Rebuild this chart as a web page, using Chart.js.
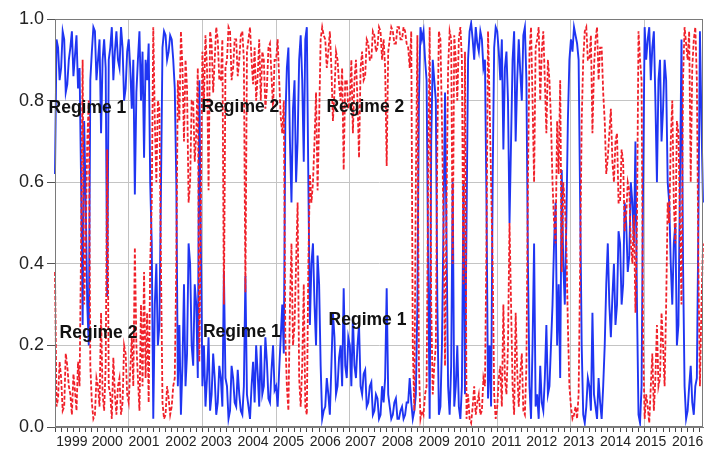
<!DOCTYPE html>
<html>
<head>
<meta charset="utf-8">
<script src="https://cdn.jsdelivr.net/npm/chart.js@4.4.1/dist/chart.umd.min.js"></script>
<style>
  html, body { margin: 0; padding: 0; background: #fff; }
  #wrap { width: 705px; height: 457px; }
</style>
</head>
<body>
<div id="wrap"><canvas id="chart" width="705" height="457"></canvas></div>
<script>
// ------------------------------------------------------------
// Data: half-monthly smoothed regime probabilities, Jan 1999 - Aug 2016
// ------------------------------------------------------------
const START_YEAR = 1999;
const N_POINTS = 423;          // two readings per month

const dates = Array.from({ length: N_POINTS }, (_, i) => {
  const m = Math.floor(i / 2);
  const yr = START_YEAR + Math.floor(m / 12);
  return `${yr}-${String(m % 12 + 1).padStart(2, '0')}-${i % 2 ? '16' : '01'}`;
});

// Regime 1 (blue, solid) - one row per year
const regime1 = [
  0.62, 0.95, 0.93, 0.85, 0.88, 0.97, 0.95, 0.82, 0.84, 0.9, 0.93, 0.97, 0.86, 0.91, 0.96, 0.83, 0.88, 0.6, 0.25, 0.75, 0.55, 0.3, 0.2, 0.85,
  0.92, 0.98, 0.97, 0.85, 0.9, 0.95, 0.72, 0.9, 0.95, 0.88, 0.32, 0.9, 0.93, 0.98, 0.85, 0.92, 0.97, 0.9, 0.88, 0.98, 0.93, 0.8, 0.83, 0.92,
  0.95, 0.88, 0.78, 0.9, 0.57, 0.82, 0.9, 0.97, 0.8, 0.92, 0.66, 0.9, 0.85, 0.94, 0.6, 0.45, 0.02, 0.3, 0.4, 0.2, 0.25, 0.58, 0.93, 0.97,
  0.96, 0.9, 0.92, 0.96, 0.95, 0.9, 0.83, 0.6, 0.1, 0.25, 0.03, 0.15, 0.35, 0.1, 0.18, 0.45, 0.4, 0.2, 0.15, 0.35, 0.3, 0.12, 0.85, 0.45,
  0.1, 0.2, 0.05, 0.12, 0.22, 0.04, 0.08, 0.18, 0.12, 0.03, 0.06, 0.15, 0.12, 0.05, 0.38, 0.12, 0.1, 0.02, 0.04, 0.15, 0.12, 0.06, 0.05, 0.14,
  0.08, 0.04, 0.03, 0.1, 0.37, 0.08, 0.05, 0.02, 0.1, 0.16, 0.06, 0.2, 0.13, 0.05, 0.2, 0.08, 0.1, 0.22, 0.16, 0.07, 0.06, 0.14, 0.2, 0.09,
  0.1, 0.05, 0.14, 0.22, 0.3, 0.18, 0.75, 0.88, 0.93, 0.7, 0.55, 0.78, 0.85, 0.6, 0.7, 0.9, 0.96, 0.85, 0.65, 0.95, 0.98, 0.6, 0.25, 0.4,
  0.45, 0.3, 0.2, 0.42, 0.35, 0.15, 0.02, 0.04, 0.05, 0.12, 0.08, 0.03, 0.15, 0.28, 0.22, 0.08, 0.1, 0.17, 0.2, 0.1, 0.34, 0.15, 0.12, 0.22,
  0.2, 0.1, 0.27, 0.15, 0.12, 0.2, 0.25, 0.1, 0.08, 0.13, 0.14, 0.05, 0.06, 0.1, 0.11, 0.03, 0.04, 0.08, 0.07, 0.02, 0.03, 0.1, 0.06, 0.12,
  0.34, 0.08, 0.05, 0.02, 0.03, 0.06, 0.07, 0.02, 0.02, 0.04, 0.05, 0.02, 0.03, 0.06, 0.06, 0.12, 0.06, 0.02, 0.04, 0.08, 0.3, 0.8, 0.98, 0.95,
  0.97, 0.9, 0.85, 0.4, 0.02, 0.7, 0.9, 0.85, 0.8, 0.3, 0.03, 0.05, 0.2, 0.5, 0.82, 0.45, 0.1, 0.03, 0.15, 0.6, 0.05, 0.1, 0.2, 0.05,
  0.02, 0.1, 0.6, 0.08, 0.5, 0.9, 0.97, 0.99, 0.95, 0.9, 0.98, 0.94, 0.92, 0.97, 0.95, 0.88, 0.9, 0.55, 0.07, 0.2, 0.05, 0.6, 0.93, 0.98,
  0.97, 0.92, 0.85, 0.95, 0.68, 0.88, 0.92, 0.8, 0.5, 0.7, 0.9, 0.97, 0.7, 0.85, 0.95, 0.87, 0.8, 0.96, 0.98, 0.85, 0.4, 0.1, 0.02, 0.2,
  0.45, 0.05, 0.08, 0.02, 0.15, 0.06, 0.04, 0.12, 0.25, 0.08, 0.1, 0.2, 0.3, 0.45, 0.55, 0.2, 0.35, 0.12, 0.63, 0.4, 0.3, 0.5, 0.75, 0.9,
  0.95, 0.92, 0.98, 0.96, 0.94, 0.9, 0.55, 0.2, 0.03, 0.01, 0.05, 0.12, 0.1, 0.04, 0.28, 0.08, 0.05, 0.02, 0.12, 0.06, 0.02, 0.1, 0.2, 0.35,
  0.45, 0.3, 0.22, 0.32, 0.4, 0.25, 0.3, 0.48, 0.45, 0.3, 0.35, 0.55, 0.5, 0.38, 0.42, 0.6, 0.55, 0.45, 0.7, 0.3, 0.03, 0.01, 0.1, 0.6,
  0.98, 0.9, 0.95, 0.98, 0.85, 0.93, 0.97, 0.8, 0.6, 0.85, 0.9, 0.7, 0.78, 0.9, 0.85, 0.6, 0.55, 0.4, 0.3, 0.45, 0.5, 0.2, 0.25, 0.6,
  0.95, 0.4, 0.1, 0.02, 0.04, 0.1, 0.15, 0.06, 0.03, 0.1, 0.12, 0.5, 0.97, 0.75, 0.55
];

// Regime 2 (red, dashed)
const regime2 = [
  0.38, 0.05, 0.07, 0.16, 0.12, 0.04, 0.05, 0.18, 0.15, 0.1, 0.08, 0.03, 0.13, 0.09, 0.04, 0.16, 0.1, 0.45, 0.9, 0.3, 0.45, 0.7, 0.8, 0.15,
  0.06, 0.02, 0.03, 0.12, 0.1, 0.05, 0.28, 0.08, 0.04, 0.15, 0.68, 0.1, 0.08, 0.02, 0.17, 0.08, 0.03, 0.1, 0.12, 0.03, 0.06, 0.2, 0.18, 0.08,
  0.06, 0.14, 0.22, 0.1, 0.44, 0.2, 0.12, 0.04, 0.3, 0.1, 0.38, 0.12, 0.28, 0.06, 0.4, 0.55, 0.98, 0.75, 0.6, 0.8, 0.78, 0.4, 0.06, 0.02,
  0.03, 0.1, 0.07, 0.03, 0.05, 0.1, 0.12, 0.4, 0.85, 0.75, 0.97, 0.88, 0.7, 0.9, 0.83, 0.55, 0.6, 0.8, 0.8, 0.65, 0.72, 0.88, 0.16, 0.55,
  0.92, 0.8, 0.96, 0.88, 0.58, 0.97, 0.94, 0.82, 0.9, 0.98, 0.95, 0.85, 0.85, 0.95, 0.3, 0.88, 0.9, 0.98, 0.97, 0.85, 0.88, 0.95, 0.95, 0.86,
  0.9, 0.96, 0.97, 0.9, 0.33, 0.92, 0.95, 0.98, 0.9, 0.84, 0.93, 0.8, 0.86, 0.95, 0.8, 0.92, 0.9, 0.78, 0.83, 0.93, 0.94, 0.86, 0.78, 0.9,
  0.9, 0.95, 0.85, 0.76, 0.72, 0.8, 0.22, 0.1, 0.04, 0.3, 0.45, 0.2, 0.25, 0.4, 0.55, 0.12, 0.05, 0.15, 0.35, 0.05, 0.03, 0.4, 0.62, 0.55,
  0.6, 0.7, 0.82, 0.58, 0.75, 0.95, 0.98, 0.96, 0.95, 0.88, 0.92, 0.97, 0.88, 0.75, 0.82, 0.92, 0.9, 0.84, 0.8, 0.88, 0.63, 0.85, 0.85, 0.78,
  0.8, 0.9, 0.72, 0.85, 0.9, 0.8, 0.66, 0.88, 0.92, 0.85, 0.86, 0.95, 0.94, 0.9, 0.9, 0.97, 0.96, 0.92, 0.93, 0.98, 0.97, 0.9, 0.95, 0.88,
  0.64, 0.92, 0.95, 0.98, 0.97, 0.94, 0.94, 0.98, 0.98, 0.95, 0.95, 0.98, 0.97, 0.94, 0.93, 0.88, 0.97, 0.2, 0.04, 0.6, 0.96, 0.15, 0.02, 0.04,
  0.03, 0.08, 0.1, 0.6, 0.98, 0.3, 0.08, 0.15, 0.2, 0.7, 0.97, 0.95, 0.75, 0.5, 0.15, 0.55, 0.88, 0.97, 0.95, 0.4, 0.96, 0.9, 0.8, 0.95,
  0.98, 0.9, 0.35, 0.92, 0.02, 0.08, 0.02, 0.01, 0.05, 0.1, 0.03, 0.06, 0.08, 0.03, 0.04, 0.12, 0.1, 0.45, 0.97, 0.8, 0.6, 0.4, 0.08, 0.02,
  0.05, 0.12, 0.15, 0.05, 0.3, 0.12, 0.08, 0.2, 0.5, 0.3, 0.1, 0.03, 0.28, 0.14, 0.05, 0.13, 0.18, 0.04, 0.03, 0.15, 0.6, 0.92, 0.98, 0.8,
  0.6, 0.93, 0.95, 0.98, 0.8, 0.92, 0.97, 0.85, 0.72, 0.9, 0.85, 0.75, 0.6, 0.5, 0.45, 0.75, 0.62, 0.85, 0.38, 0.6, 0.55, 0.45, 0.25, 0.1,
  0.05, 0.02, 0.03, 0.05, 0.02, 0.08, 0.4, 0.75, 0.9, 0.97, 0.98, 0.9, 0.9, 0.96, 0.72, 0.88, 0.95, 0.98, 0.85, 0.93, 0.93, 0.82, 0.75, 0.62,
  0.66, 0.72, 0.78, 0.65, 0.6, 0.7, 0.72, 0.55, 0.55, 0.68, 0.65, 0.48, 0.52, 0.6, 0.58, 0.45, 0.4, 0.52, 0.28, 0.5, 0.97, 0.9, 0.85, 0.2,
  0.02, 0.08, 0.05, 0.01, 0.1, 0.18, 0.04, 0.12, 0.25, 0.1, 0.12, 0.28, 0.2, 0.1, 0.3, 0.55, 0.5, 0.7, 0.8, 0.55, 0.45, 0.75, 0.72, 0.5,
  0.3, 0.85, 0.98, 0.94, 0.9, 0.97, 0.6, 0.88, 0.95, 0.98, 0.85, 0.4, 0.1, 0.3, 0.45
];

// Year labels are spread evenly under the axis, slightly tighter than the years
const yearLabels = ['1999', '2000', '2001', '2002', '2003', '2004', '2005', '2006', '2007',
                    '2008', '2009', '2010', '2011', '2012', '2013', '2014', '2015', '2016'];
const LABEL_FIRST = 10.8;      // in half-month steps
const LABEL_STEP = 23.58;

const yTicks = [0, 0.2, 0.4, 0.6, 0.8, 1.0];

// Text labels inside the plot (decimal year, probability)
const notes = [
  { text: 'Regime 1', year: 1999.88, y: 0.782 },
  { text: 'Regime 2', year: 2000.18, y: 0.230 },
  { text: 'Regime 2', year: 2004.03, y: 0.784 },
  { text: 'Regime 1', year: 2004.07, y: 0.233 },
  { text: 'Regime 2', year: 2007.42, y: 0.784 },
  { text: 'Regime 1', year: 2007.48, y: 0.262 },
];

const FONT = '"Liberation Sans", Arial, Helvetica, sans-serif';

const labelAt = new Map(yearLabels.map((y, k) => [Math.round(LABEL_FIRST + k * LABEL_STEP), y]));

// ------------------------------------------------------------
// Plugins: frame around the plot, regime labels
// ------------------------------------------------------------
const framePlugin = {
  id: 'frame',
  afterDatasetsDraw(chart) {
    const { ctx, chartArea: a } = chart;
    ctx.save();
    ctx.strokeStyle = '#7a7a7a';
    ctx.lineWidth = 1;
    ctx.strokeRect(a.left + 0.5, a.top + 0.5, a.right - a.left - 1, a.bottom - a.top - 1);
    ctx.restore();
  }
};

const notesPlugin = {
  id: 'notes',
  afterDatasetsDraw(chart) {
    const { ctx, scales } = chart;
    ctx.save();
    ctx.font = `bold 17.5px ${FONT}`;
    ctx.fillStyle = '#111';
    ctx.textAlign = 'center';
    ctx.textBaseline = 'middle';
    notes.forEach(n => {
      const px = scales.x.getPixelForValue((n.year - START_YEAR) * 24);
      const py = scales.y.getPixelForValue(n.y);
      ctx.fillText(n.text, px, py);
    });
    ctx.restore();
  }
};

// ------------------------------------------------------------
// Chart
// ------------------------------------------------------------
new Chart(document.getElementById('chart'), {
  type: 'line',
  data: {
    labels: dates,
    datasets: [
      {
        label: 'Regime 1',
        data: regime1,
        borderColor: '#1f35f2',
        borderWidth: 1.9,
        pointRadius: 0,
        tension: 0,
        order: 2,
      },
      {
        label: 'Regime 2',
        data: regime2,
        borderColor: '#f0212a',
        borderWidth: 1.8,
        borderDash: [4, 2],
        pointRadius: 0,
        tension: 0,
        order: 1,
      },
    ],
  },
  options: {
    responsive: false,
    animation: false,
    layout: { padding: { top: 19, right: 2, left: 0, bottom: 0 } },
    plugins: {
      legend: { display: false },
      tooltip: { enabled: false },
    },
    scales: {
      x: {
        offset: false,
        border: { display: true, color: '#7a7a7a' },
        grid: {
          drawTicks: true,
          tickLength: 5,
          color: c => (c.index % 48 === 0 ? '#c4c4c4' : 'rgba(0,0,0,0)'),
          tickColor: c => (c.index % 4 === 0 ? '#444' : 'rgba(0,0,0,0)'),
        },
        ticks: {
          autoSkip: false,
          maxRotation: 0,
          minRotation: 0,
          padding: 2,
          color: '#222',
          font: { family: FONT, size: 14 },
          callback: (v, i) => labelAt.get(i) || '',
        },
        afterFit: s => { s.height = 30; },
      },
      y: {
        min: 0,
        max: 1,
        border: { display: true, color: '#7a7a7a' },
        afterBuildTicks: s => { s.ticks = yTicks.map(v => ({ value: v })); },
        grid: {
          tickLength: 8,
          color: '#c4c4c4',
          tickColor: '#555',
        },
        ticks: {
          padding: 3,
          color: '#222',
          font: { family: FONT, size: 18 },
          callback: v => v.toFixed(1),
        },
        afterFit: s => { s.width = 55; },
      },
    },
  },
  plugins: [framePlugin, notesPlugin],
});
</script>
</body>
</html>
